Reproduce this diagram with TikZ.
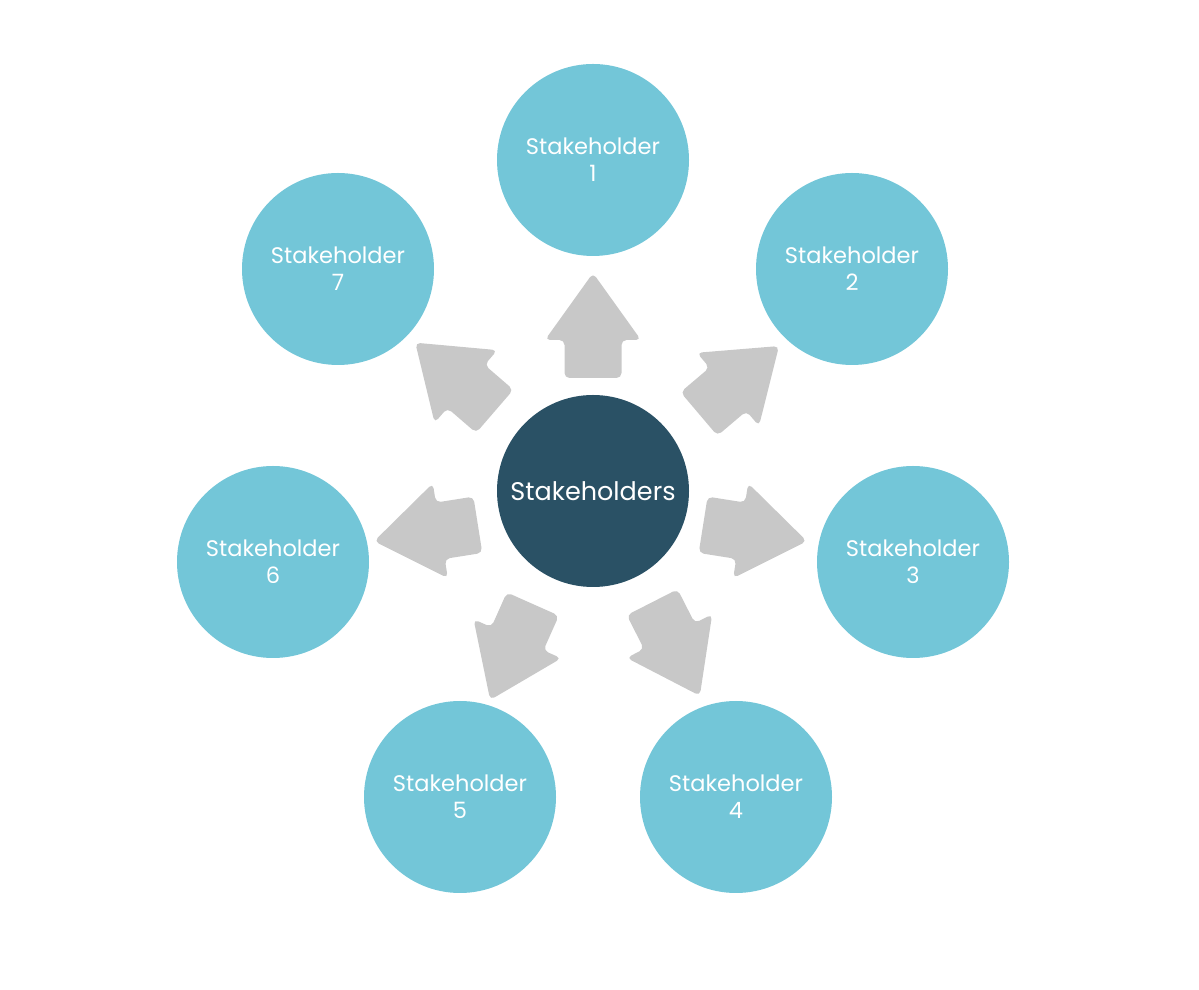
\documentclass[tikz,border=0pt]{standalone}
\usepackage{fontspec}
\setmainfont{Poppins}
\definecolor{lightc}{HTML}{73C6D8}
\definecolor{darkc}{HTML}{2A5165}
\definecolor{arrowc}{HTML}{C8C8C8}
\begin{document}
\begin{tikzpicture}[x=1pt,y=1pt,
  outer/.style={circle,fill=lightc,minimum size=192pt,inner sep=0pt,text=white,align=center,
    font=\fontsize{22.5}{27}\selectfont},
  hub/.style={circle,fill=darkc,minimum size=192pt,inner sep=0pt,text=white,
    font=\fontsize{25.5}{28}\selectfont},
  blockarrow/.style={fill=arrowc,rounded corners=5pt}]
\useasboundingbox (0,0) rectangle (1199,990);
\node[hub] (c) at (593,499) {Stakeholders};
\node[outer] (s1) at (593,830) {Stakeholder\\1};
\node[outer] (s2) at (852,721) {Stakeholder\\2};
\node[outer] (s3) at (913,428) {Stakeholder\\3};
\node[outer] (s4) at (736,193) {Stakeholder\\4};
\node[outer] (s5) at (460,193) {Stakeholder\\5};
\node[outer] (s6) at (273,428) {Stakeholder\\6};
\node[outer] (s7) at (338,721) {Stakeholder\\7};
\foreach \a/\dx/\dy in {90/0/165.5, 40.3/146/111, -9/162/-42, -63/83/-158,
    -114/-81.5/-161, 189/-167/-42, 139.2/-138/114}{
  \begin{scope}[shift={(c)},shift={(\dx,\dy)},rotate=\a]
    \fill[blockarrow] (-52.5,-28.5) -- (-14.5,-28.5) -- (-14.5,-48) -- (52.5,0)
      -- (-14.5,48) -- (-14.5,28.5) -- (-52.5,28.5) -- cycle;
  \end{scope}
}
\end{tikzpicture}
\end{document}
